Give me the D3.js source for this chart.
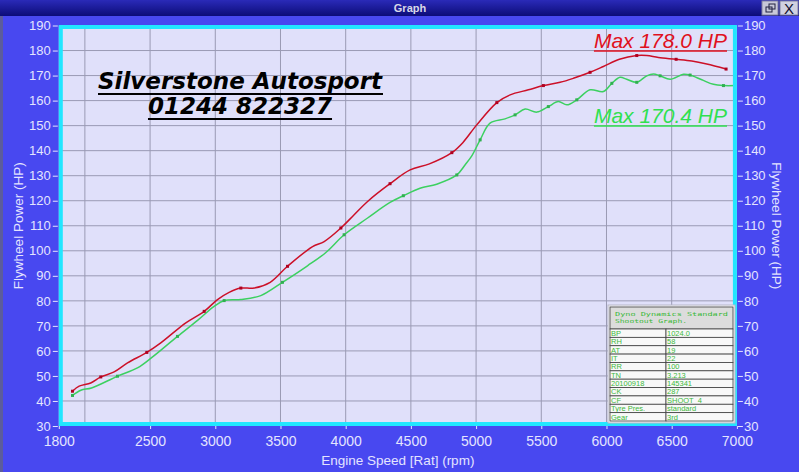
<!DOCTYPE html>
<html><head><meta charset="utf-8">
<script src="https://cdn.jsdelivr.net/npm/d3@7"></script>
<style>html,body{margin:0;padding:0;background:#4848f0;overflow:hidden}</style>
</head><body>
<script>
// ---- data ----
const redRpm = [1905,1956,2045,2122,2224,2327,2475,2582,2774,2915,3017,3106,3196,3298,3421,3554,3746,3835,3963,4065,4168,4340,4494,4642,4814,4898,5005,5159,5261,5401,5516,5644,5746,5874,5976,6099,6232,6309,6398,6534,6654,6769,6917];
const redHp  = [43.9,45.9,47.2,49.6,51.6,55.2,59.4,63.2,71.2,75.8,80.5,83.4,85.1,85.1,87.4,93.8,101.7,103.7,109.1,114.4,119.7,126.8,132.3,134.7,139.2,143.2,150.3,159.2,162.3,164.3,166.0,167.3,168.9,171.3,173.6,176.5,178.0,178.0,177.2,176.5,175.8,174.6,172.6];
const greenRpm = [1905,1969,2051,2250,2403,2519,2710,2864,2991,3068,3196,3349,3515,3707,3848,3988,4168,4340,4442,4570,4698,4852,4915,4967,5031,5107,5222,5299,5376,5466,5554,5631,5696,5772,5874,5976,6041,6104,6155,6232,6309,6360,6411,6488,6590,6641,6731,6820,6897,6987];
const greenHp  = [42.2,44.3,45.2,49.9,53.2,57.6,65.8,72.2,77.8,80.1,80.5,82.1,87.4,94.0,99.3,106.4,113.1,119.3,122.0,125.0,126.6,130.3,134.3,137.9,144.3,151.0,152.7,154.3,156.6,155.4,157.6,159.6,158.3,160.3,164.3,163.6,166.9,169.3,168.5,167.3,169.9,170.6,169.9,168.5,170.5,170.2,168.3,166.5,166.0,166.0];
const yTicks = [30,40,50,60,70,80,90,100,110,120,130,140,150,160,170,180,190];
const xTickLabels = [1800,2500,3000,3500,4000,4500,5000,5500,6000,6500,7000];
const xGrid = [2000,2500,3000,3500,4000,4500,5000,5500,6000,6500];
const yGrid = [40,50,60,70,80,90,100,110,120,130,140,150,160,170,180];
const maxLabels = ["Max 178.0 HP","Max 170.4 HP"];
const titleLines = ["Silverstone Autosport","01244 822327"];
const tableHeader = ["Dyno Dynamics Standard","Shootout Graph."];
const tableKeys = ["BP","RH","AT","IT","RR","TN","20100918","CK","CF","Tyre Pres.","Gear"];
const tableVals = ["1024.0","58","19","22","100","3.213","145341","287","SHOOT_4","standard","3rd"];

// ---- layout ----
const W=799,H=472;
const svg=d3.select("body").append("svg").attr("width",W).attr("height",H);
svg.append("rect").attr("width",W).attr("height",H).attr("fill","#4848f0");
svg.append("rect").attr("x",0).attr("y",0).attr("width",3).attr("height",H).attr("fill","#5c5c9c");

// title bar
const grad=svg.append("defs").append("linearGradient").attr("id","tb").attr("x1",0).attr("y1",0).attr("x2",0).attr("y2",1);
grad.append("stop").attr("offset","0%").attr("stop-color","#2a2ab8");
grad.append("stop").attr("offset","100%").attr("stop-color","#0c0c78");
svg.append("rect").attr("width",W).attr("height",16).attr("fill","url(#tb)");
svg.append("text").attr("x",410).attr("y",12).attr("text-anchor","middle")
  .attr("font-family","Liberation Sans, Arial").attr("font-weight","bold").attr("font-size",11).attr("fill","#d8d8e8").text("Graph");
// buttons
svg.append("rect").attr("x",762).attr("y",1).attr("width",16).attr("height",14).attr("fill","#c8c8d8").attr("stroke","#8080a0");
svg.append("rect").attr("x",766).attr("y",7).attr("width",6).attr("height",5).attr("fill","none").attr("stroke","#202040");
svg.append("rect").attr("x",769).attr("y",4).attr("width",6).attr("height",5).attr("fill","none").attr("stroke","#202040");
svg.append("rect").attr("x",780).attr("y",1).attr("width",18).attr("height",14).attr("fill","#d0d0e0").attr("stroke","#8080a0");
svg.append("text").attr("x",789).attr("y",14).attr("text-anchor","middle").attr("font-family","Liberation Sans, Arial").attr("font-size",15).attr("fill","#101030").text("X");

const x=d3.scaleLinear().domain([1800,7000]).range([58.8,736.9]);
const y=d3.scaleLinear().domain([30,190]).range([426,25.5]);

// plot background
svg.append("rect").attr("x",x(1800)).attr("y",y(190)).attr("width",x(7000)-x(1800)).attr("height",y(30)-y(190)).attr("fill","#e0e0fa");
const grid=svg.append("g").attr("stroke","#9a9ab4").attr("stroke-width",1);
grid.selectAll(".vg").data(xGrid).join("line").attr("x1",d=>x(d)).attr("x2",d=>x(d)).attr("y1",y(190)).attr("y2",y(30));
grid.selectAll(".hg").data(yGrid).join("line").attr("y1",d=>y(d)).attr("y2",d=>y(d)).attr("x1",x(1800)).attr("x2",x(7000));

// axes
const tickColor="#e4e4ff";
const font="Liberation Sans, Arial, sans-serif";
function styleAxis(g){g.select(".domain").remove();g.selectAll("line").attr("stroke",tickColor);g.selectAll("text").attr("fill",tickColor).attr("font-family",font);}
svg.append("g").attr("transform",`translate(${x(1800)-1},0)`).call(d3.axisLeft(y).tickValues(yTicks).tickSize(5).tickPadding(2)).call(styleAxis).selectAll("text").attr("font-size",13);
svg.append("g").attr("transform",`translate(${x(7000)+1},0)`).call(d3.axisRight(y).tickValues(yTicks).tickSize(5).tickPadding(1)).call(styleAxis).selectAll("text").attr("font-size",13);
svg.append("g").attr("transform",`translate(0,${y(30)})`).call(d3.axisBottom(x).tickValues(xTickLabels).tickFormat(d3.format("d")).tickSize(3).tickPadding(7)).call(styleAxis).selectAll("text").attr("font-size",14);

svg.append("text").attr("x",(x(1800)+x(7000))/2).attr("y",465).attr("text-anchor","middle").attr("font-family",font).attr("font-size",13.5).attr("fill",tickColor).text("Engine Speed [Rat] (rpm)");
svg.append("text").attr("transform",`translate(23,${y(110)}) rotate(-90)`).attr("text-anchor","middle").attr("font-family",font).attr("font-size",13.5).attr("fill",tickColor).text("Flywheel Power (HP)");
svg.append("text").attr("transform",`translate(772,${y(110)}) rotate(90)`).attr("text-anchor","middle").attr("font-family",font).attr("font-size",13.5).attr("fill",tickColor).text("Flywheel Power (HP)");

// curves
const redData=redRpm.map((r,i)=>({r,h:redHp[i]}));
const greenData=greenRpm.map((r,i)=>({r,h:greenHp[i]}));
const line=d3.line().x(d=>x(d.r)).y(d=>y(d.h)).curve(d3.curveCatmullRom.alpha(0.5));
svg.append("path").datum(greenData).attr("d",line).attr("fill","none").attr("stroke","#3cd060").attr("stroke-width",1.5);
svg.append("path").datum(redData).attr("d",line).attr("fill","none").attr("stroke","#cc1028").attr("stroke-width",1.5);
svg.selectAll(".gm").data(greenData.filter((d,i)=>i%3===0)).join("rect").attr("x",d=>x(d.r)-1.5).attr("y",d=>y(d.h)-1.5).attr("width",3).attr("height",3).attr("fill","#30b050");
svg.selectAll(".rm").data(redData.filter((d,i)=>i%3===0)).join("rect").attr("x",d=>x(d.r)-1.5).attr("y",d=>y(d.h)-1.5).attr("width",3).attr("height",3).attr("fill","#b00020");

// cyan frame
svg.append("rect").attr("x",x(1800)+2).attr("y",y(190)+1.5).attr("width",x(7000)-x(1800)-4).attr("height",y(30)-y(190)-3.5)
  .attr("fill","none").attr("stroke","#22e6ff").attr("stroke-width",4);

// underlined text helper
function uText(tx,ty,str,opts){
  const t=svg.append("text").attr("x",tx).attr("y",ty).attr("text-anchor",opts.anchor).attr("font-family",opts.family)
    .attr("font-size",opts.size).attr("font-style","italic").attr("font-weight",opts.weight||"normal").attr("fill",opts.color).text(str);
  const bb=t.node().getBBox();
  svg.append("line").attr("x1",bb.x).attr("x2",bb.x+bb.width).attr("y1",ty+opts.ul).attr("y2",ty+opts.ul).attr("stroke",opts.color).attr("stroke-width",opts.ulw);
}
uText(240,89,titleLines[0],{anchor:"middle",family:"DejaVu Sans, Verdana",size:23,weight:"bold",color:"#000000",ul:5,ulw:2});
uText(240,114,titleLines[1],{anchor:"middle",family:"DejaVu Sans, Verdana",size:23,weight:"bold",color:"#000000",ul:5,ulw:2});
uText(727,48,maxLabels[0],{anchor:"end",family:font,size:21,color:"#e01020",ul:3,ulw:1.5});
uText(727,123,maxLabels[1],{anchor:"end",family:font,size:21,color:"#30e050",ul:3,ulw:1.5});

// info table
const tx0=610,tx1=733,tcol=666,ty0=307,thead=22,rowH=(421-329)/11;
const tg=svg.append("g");
tg.append("rect").attr("x",tx0-2).attr("y",ty0-2).attr("width",tx1-tx0+4).attr("height",421-ty0+4).attr("fill","#f0f0f4").attr("stroke","#b8b8c8");
tg.append("rect").attr("x",tx0).attr("y",ty0).attr("width",tx1-tx0).attr("height",thead).attr("fill","#dcdcdc").attr("stroke","#404040").attr("stroke-width",0.8);
tableHeader.forEach((s,i)=>tg.append("text").attr("x",615).attr("y",ty0+9+i*6.5).attr("font-family","DejaVu Sans Mono, monospace").attr("font-size",5.5)
  .attr("textLength",i===0?113:72).attr("lengthAdjust","spacingAndGlyphs").attr("fill","#38b838").text(s));
tableKeys.forEach((k,i)=>{
  const ry=ty0+thead+i*rowH;
  tg.append("rect").attr("x",tx0).attr("y",ry).attr("width",tcol-tx0).attr("height",rowH).attr("fill","#f8f8f8").attr("stroke","#404040").attr("stroke-width",0.8);
  tg.append("rect").attr("x",tcol).attr("y",ry).attr("width",tx1-tcol).attr("height",rowH).attr("fill","#f8f8f8").attr("stroke","#404040").attr("stroke-width",0.8);
  tg.append("text").attr("x",tx0+1).attr("y",ry+rowH-1.5).attr("font-family",font).attr("font-size",7.5).attr("fill","#40b840").text(k);
  tg.append("text").attr("x",tcol+1).attr("y",ry+rowH-1.5).attr("font-family",font).attr("font-size",7.5).attr("fill","#40b840").text(tableVals[i]);
});
</script>
</body></html>
